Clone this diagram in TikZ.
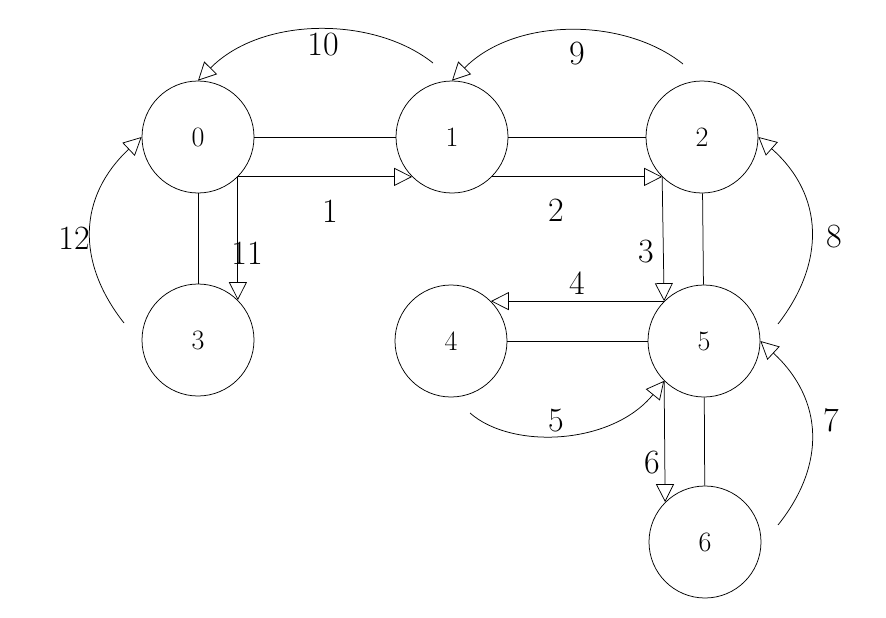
\documentclass[tikz,border=0pt]{standalone}
\usetikzlibrary{arrows.meta}
\begin{document}
\begin{tikzpicture}[x=1pt,y=-1pt,
  state/.style={circle,draw,minimum size=112pt,inner sep=0pt,line width=0.75pt,font=\fontsize{28}{30}\selectfont},
  link/.style={line width=0.75pt},
  arr/.style={line width=0.75pt,-{Triangle[open,length=18pt,width=18pt]}},
  lbl/.style={font=\fontsize{34}{36}\selectfont,inner sep=0pt}]
\useasboundingbox[fill=white] (0,0) rectangle (886,618);
% states
\node[state] (n0) at (198,137) {0};
\node[state] (n1) at (452,137) {1};
\node[state] (n2) at (702,137) {2};
\node[state] (n3) at (198,340) {3};
\node[state] (n4) at (451,341) {4};
\node[state] (n5) at (704,341) {5};
\node[state] (n6) at (705,542) {6};
% undirected links
\draw[link] (n0) -- (n1);
\draw[link] (n0) -- (n3);
\draw[link] (n1) -- (n2);
\draw[link] (n2) -- (n5);
\draw[link] (n4) -- (n5);
\draw[link] (n5) -- (n6);
% straight arrows
\draw[arr] (n0.south east) -- (n1.south west);
\draw[arr] (n0.south east) -- (n3.north east);
\draw[arr] (n1.south east) -- (n2.south west);
\draw[arr] (n2.south west) -- (n5.north west);
\draw[arr] (n5.north west) -- (n4.north east);
\draw[arr] (n5.south west) -- (n6.north west);
% curved arrows
\coordinate (s10) at (433,63);
\coordinate (s9) at (683,64);
\coordinate (s8) at (778,324);
\coordinate (s7) at (778,525);
\coordinate (s12) at (124,323);
\coordinate (s5) at (470,413);
\draw[arr] (s10) .. controls (374,16) and (262,16) .. (n0.north);
\draw[arr] (s9) .. controls (624,17) and (515,17) .. (n1.north);
\draw[arr] (s8) .. controls (826,262) and (824,195) .. (n2.east);
\draw[arr] (s7) .. controls (826,465) and (824,400) .. (n5.east);
\draw[arr] (s12) .. controls (76,262) and (78,197) .. (n0.west);
\draw[arr] (s5) .. controls (512,450) and (612,445) .. (n5.south west);
% labels
\node[lbl] (l1) at (330,211) {1};
\node[lbl] (l2) at (556,210) {2};
\node[lbl] (l3) at (646,252) {3};
\node[lbl] (l4) at (577,283) {4};
\node[lbl] (l5) at (556,421) {5};
\node[lbl] (l6) at (652,463) {6};
\node[lbl] (l7) at (831,420) {7};
\node[lbl] (l8) at (834,237) {8};
\node[lbl] (l9) at (577,54) {9};
\node[lbl] (l10) at (323,45) {10};
\node[lbl] (l11) at (247,253) {11};
\node[lbl] (l12) at (74,238) {12};
\end{tikzpicture}
\end{document}
